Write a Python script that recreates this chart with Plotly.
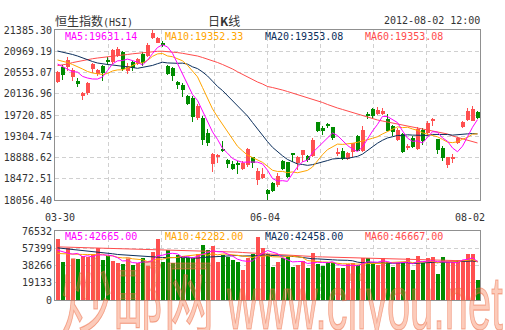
import pandas as pd
import plotly.graph_objects as go

# ---------------- data ----------------
dates = [
    "2012-03-30",
    "2012-04-02", "2012-04-03", "2012-04-05", "2012-04-10", "2012-04-11", "2012-04-12",
    "2012-04-13", "2012-04-16", "2012-04-17", "2012-04-18", "2012-04-19", "2012-04-20",
    "2012-04-23", "2012-04-24", "2012-04-25", "2012-04-26", "2012-04-27", "2012-04-30",
    "2012-05-02", "2012-05-03", "2012-05-04", "2012-05-07", "2012-05-08", "2012-05-09",
    "2012-05-10", "2012-05-11", "2012-05-14", "2012-05-15", "2012-05-16", "2012-05-17",
    "2012-05-18", "2012-05-21", "2012-05-22", "2012-05-23", "2012-05-24", "2012-05-25",
    "2012-05-28", "2012-05-29", "2012-05-30", "2012-05-31",
    "2012-06-01", "2012-06-04", "2012-06-05", "2012-06-06", "2012-06-07", "2012-06-08",
    "2012-06-11", "2012-06-12", "2012-06-13", "2012-06-14", "2012-06-15", "2012-06-18",
    "2012-06-19", "2012-06-20", "2012-06-21", "2012-06-22", "2012-06-25", "2012-06-26",
    "2012-06-27", "2012-06-28", "2012-06-29",
    "2012-07-03", "2012-07-04", "2012-07-05", "2012-07-06", "2012-07-09", "2012-07-10",
    "2012-07-11", "2012-07-12", "2012-07-13", "2012-07-16", "2012-07-17", "2012-07-18",
    "2012-07-19", "2012-07-20", "2012-07-23", "2012-07-24", "2012-07-25", "2012-07-26",
    "2012-07-27", "2012-07-30", "2012-07-31",
    "2012-08-01", "2012-08-02",
]

opens = [
    20367, 20661, 20655, 20459, 20387, 20093, 20142, 20622, 20524, 20680,
    20798, 20753, 20882, 20964, 20592, 20759, 20729, 20925, 20876, 21229,
    21140, 21131, 20674, 20641, 20367, 20302, 20087, 20054, 19662, 19662,
    19368, 18767, 18912, 19041, 18846, 18761, 18781, 18658, 18742, 18893,
    18448, 18481, 18252, 18383, 18350, 18826, 18801, 18971, 18787, 18928,
    18912, 18912, 19584, 19460, 19531, 19480, 18977, 19010, 18859, 18996,
    19304, 19016, 19731, 19838, 19750, 19750, 19643, 19506, 19231, 19349,
    19075, 19271, 19055, 19437, 19363, 19609, 19245, 19069, 18736, 18875,
    19178, 19480, 19623, 19613, 19786,
]
highs = [
    20588, 20700, 20851, 20641, 20445, 20181, 20367, 20739, 20628, 20700,
    20866, 21019, 21047, 20980, 20739, 20778, 20837, 20954, 21131, 21385.30,
    21258, 21170, 20694, 20655, 20381, 20347, 20118, 20087, 19936, 19695,
    19453, 18977, 18957, 19206, 18850, 18826, 18826, 18820, 19069, 18904,
    18677, 18677, 18272, 18415, 18591, 18846, 18806, 18977, 18918, 19036,
    18938, 19265, 19590, 19500, 19570, 19492, 19075, 19065, 18996, 19178,
    19335, 19506, 19770, 19852, 19872, 19852, 19741, 19525, 19460, 19363,
    19147, 19304, 19492, 19460, 19603, 19668, 19251, 19108, 18908, 18951,
    19296, 19609, 19852, 19897, 19799,
]
lows = [
    20347, 20406, 20588, 20381, 20263, 20015, 20112, 20553, 20485, 20377,
    20700, 20720, 20851, 20582, 20524, 20573, 20706, 20671, 20866, 21215,
    21131, 21047, 20510, 20392, 20236, 20073, 19911, 19584, 19629, 19139,
    19108, 18605, 18781, 18996, 18683, 18650, 18566, 18650, 18709, 18677,
    18350, 18468, 18056.40, 18219, 18317, 18644, 18481, 18806, 18644, 18806,
    18801, 18904, 19394, 19323, 19460, 19231, 18918, 18846, 18830, 18904,
    19010, 18996, 19643, 19656, 19721, 19721, 19408, 19304, 19218, 18983,
    19041, 19069, 19036, 19128, 19304, 19500, 18957, 18814, 18677, 18781,
    19147, 19460, 19609, 19603, 19643,
]
closes = [
    20563, 20504, 20804, 20608, 20328, 20142, 20342, 20710, 20602, 20534,
    20759, 20999, 21013, 20628, 20680, 20641, 20817, 20739, 21097, 21321,
    21238, 21086, 20524, 20479, 20314, 20205, 19936, 19676, 19903, 19237,
    19173, 18963, 18944, 19022, 18761, 18658, 18742, 18787, 19055, 18775,
    18630, 18566, 18174, 18239, 18526, 18670, 18501, 18928, 18893, 19030,
    18834, 19231, 19408, 19413, 19519, 19265, 18990, 18869, 18977, 19167,
    19022, 19437, 19715, 19692, 19819, 19809, 19413, 19392, 19427, 19006,
    19104, 19094, 19447, 19212, 19564, 19652, 19045, 18883, 18893, 18904,
    19280, 19590, 19799, 19831, 19656,
]
volumes = [
    67344, 42456, 57828, 45384, 45384, 49044, 47946, 50508, 57828, 44286,
    49044, 43188, 40626, 39528, 45384, 38796, 40626, 46848, 38064, 53436,
    67344, 42456, 55266, 40626, 49776, 49044, 46848, 46116, 50508, 60756,
    55266, 60024, 41724, 49776, 47946, 44286, 42456, 33306, 46116, 50508,
    69575, 57828, 50508, 36966, 42456, 46848, 47946, 36966, 38796, 43188,
    35868, 51606, 39528, 38064, 41724, 41358, 35868, 35136, 39528, 40626,
    38796, 46116, 46116, 39528, 38796, 46434, 42597, 36840, 41445, 42597,
    46434, 33770, 48353, 41445, 46434, 48168, 28290, 48168, 42434, 42434,
    44485, 44485, 51299, 51299, 21757,
]

# Moving averages. Each line starts before 03-30, so its first points
# (before a full window exists in this range) are given directly.
ma5_lead = [20719, 20667, 20628, 20569]
ma10_lead = [20798, 20778, 20749, 20710, 20671, 20622, 20573, 20543, 20530]
ma20_lead = [20974, 20954, 20935, 20906, 20876, 20837, 20798, 20768, 20739, 20719,
             20710, 20700, 20690, 20680, 20671, 20651, 20635, 20651, 20680]
ma60 = [
    20688, 20702, 20719, 20747, 20768, 20788, 20808, 20823, 20837, 20851,
    20862, 20872, 20882, 20892, 20906, 20919, 20931, 20941, 20951, 20958,
    20968, 20970, 20964, 20954, 20943, 20929, 20915, 20902, 20876, 20847,
    20817, 20786, 20749, 20710, 20671, 20622, 20567, 20514, 20465, 20416,
    20367, 20328, 20279, 20259, 20240, 20210, 20181, 20152, 20122, 20093,
    20064, 20034, 20005, 19966, 19927, 19887, 19858, 19829, 19799, 19770,
    19750, 19721, 19682, 19646, 19623, 19603, 19584, 19564, 19535, 19515,
    19496, 19476, 19466, 19447, 19427, 19408, 19392, 19374, 19349, 19310,
    19280, 19251, 19222, 19192, 19173,
]
vol_ma5_lead = [55266, 53436, 51972, 50874]
vol_ma10_lead = [51606, 51240, 51057, 50874, 50691, 50508, 50508, 50325, 50142]
vol_ma20_lead = [57828, 57300, 56800, 56300, 55800, 55266, 54650, 54050, 53450, 52800,
                 52000, 51300, 50500, 50100, 49700, 49300, 48900, 48500, 48000]
vol_ma60 = [
    58926, 58790, 58650, 58510, 58380, 58240, 58100, 57970, 57828, 57620,
    57410, 57200, 56990, 56780, 56570, 56364, 56210, 56050, 55900, 55740,
    55580, 55420, 55266, 55110, 54950, 54800, 54640, 54480, 54320, 54168,
    54050, 53930, 53800, 53680, 53560, 53436, 53070, 52700, 52340, 51970,
    51606, 51240, 50870, 50510, 50140, 49776, 49520, 49250, 48990, 48730,
    48470, 48210, 47946, 47790, 47630, 47480, 47320, 47160, 47000, 46848,
    46600, 46360, 46110, 45870, 45630, 45384, 45230, 45070, 44910, 44760,
    44600, 44440, 44286, 44200, 44100, 44000, 43900, 43800, 43700, 43600,
    43500, 43400, 43350, 43270, 43188,
]

price_ticks = [18056.40, 18472.51, 18888.62, 19304.74, 19720.85,
               20136.96, 20553.07, 20969.19, 21385.30]
volume_ticks = [0, 19133, 38266, 57399, 76532]
date_label_idx = [0, 42, 84]
price_legend = [("MA5", "19631.14"), ("MA10", "19352.33"),
                ("MA20", "19353.08"), ("MA60", "19353.08")]
volume_legend = [("MA5", "42665.00"), ("MA10", "42282.00"),
                 ("MA20", "42458.00"), ("MA60", "46667.00")]
index_name = "恒生指数"
index_code = "(HSI)"
period_name = "日<b>K</b>线"
stamp = "2012-08-02 12:00"
site_cn = "炒邮网"
site_url = "www.cjiyou.net"

# ---------------- style ----------------
RED = "#ff5050"
GREEN = "#008c00"
MA_COLORS = {"MA5": "#ff00ff", "MA10": "#ffa500", "MA20": "#0c2f5c", "MA60": "#ff4c4c"}
MONO = "DejaVu Sans Mono, Liberation Mono, monospace"
CJK = "Noto Sans CJK SC, sans-serif"
GRID = "#d0d0d0"
FRAME = "#909090"
TEXT = "#333333"
WM_FILL = "rgba(246,112,64,0.36)"
WM_EDGE = "rgba(236,100,60,0.5)"


def moving(values, n, lead):
    s = pd.Series(values, dtype=float).rolling(n).mean()
    s.iloc[: n - 1] = lead
    return s.tolist()


x = list(range(len(dates)))
n = len(x)
up = [c >= o for o, c in zip(opens, closes)]
colors = [RED if u else GREEN for u in up]

price_min, price_max = price_ticks[0], price_ticks[-1]
min_body = (price_max - price_min) / 170 * 0.9  # keep a doji visible as a 1px line
body_h = [max(abs(c - o), min_body) for o, c in zip(opens, closes)]
body_base = [(o + c) / 2 - h / 2 for o, c, h in zip(opens, closes, body_h)]

price_ma = {
    "MA5": moving(closes, 5, ma5_lead),
    "MA10": moving(closes, 10, ma10_lead),
    "MA20": moving(closes, 20, ma20_lead),
    "MA60": ma60,
}
vol_ma = {
    "MA5": moving(volumes, 5, vol_ma5_lead),
    "MA10": moving(volumes, 10, vol_ma10_lead),
    "MA20": moving(volumes, 20, vol_ma20_lead),
    "MA60": vol_ma60,
}

fig = go.Figure()

# wicks and bodies
fig.add_trace(go.Bar(x=x, y=[h - l for h, l in zip(highs, lows)], base=lows,
                     width=0.2, marker=dict(color=colors, line_width=0),
                     xaxis="x", yaxis="y", hoverinfo="skip"))
fig.add_trace(go.Bar(x=x, y=body_h, base=body_base, width=0.8,
                     marker=dict(color=colors, line_width=0),
                     customdata=list(zip(dates, opens, highs, lows, closes)),
                     hovertemplate="%{customdata[0]}<br>O %{customdata[1]}<br>H %{customdata[2]}"
                                   "<br>L %{customdata[3]}<br>C %{customdata[4]}<extra></extra>",
                     xaxis="x", yaxis="y"))
for name in ["MA60", "MA20", "MA10", "MA5"]:
    fig.add_trace(go.Scatter(x=x, y=price_ma[name], mode="lines",
                             line=dict(color=MA_COLORS[name], width=1),
                             xaxis="x", yaxis="y", hoverinfo="skip"))

# volume
fig.add_trace(go.Bar(x=x, y=volumes, width=0.8,
                     marker=dict(color=colors, line_width=0),
                     xaxis="x2", yaxis="y2", hoverinfo="skip"))
for name in ["MA60", "MA20", "MA10", "MA5"]:
    fig.add_trace(go.Scatter(x=x, y=vol_ma[name], mode="lines",
                             line=dict(color=MA_COLORS[name], width=1),
                             xaxis="x2", yaxis="y2", hoverinfo="skip"))

# vertical grid: eight equal divisions of the time axis
grid_x = [-0.5 + n * k / 8 for k in range(1, 8)]

axis_common = dict(showline=True, mirror=True, linecolor=FRAME, linewidth=1,
                   zeroline=False, showgrid=True, gridcolor=GRID, griddash="4px,3px",
                   gridwidth=1, ticks="", fixedrange=True, automargin=False)

W_TOTAL, H_TOTAL = 505, 330
LEFT, RIGHT, TOP, BOTTOM = 55, 25, 30, 30
plot_w = W_TOTAL - LEFT - RIGHT
plot_h = H_TOTAL - TOP - BOTTOM


def fy(py):
    """page pixel row -> paper fraction"""
    return (H_TOTAL - BOTTOM - py) / plot_h


def fx(px):
    """page pixel column -> paper fraction"""
    return (px - LEFT) / plot_w


fig.update_layout(
    width=W_TOTAL, height=H_TOTAL,
    margin=dict(l=LEFT, r=RIGHT, t=TOP, b=BOTTOM, autoexpand=False),
    paper_bgcolor="white", plot_bgcolor="white",
    showlegend=False, barmode="overlay", bargap=0,
    font=dict(family=MONO, size=10, color=TEXT),
    xaxis=dict(axis_common, domain=[0, 1], range=[-0.5, n - 0.5], anchor="y",
               tickvals=grid_x, showticklabels=False),
    xaxis2=dict(axis_common, domain=[0, 1], range=[-0.5, n - 0.5], anchor="y2",
                tickvals=grid_x, showticklabels=False, matches="x"),
    yaxis=dict(axis_common, domain=[fy(200), fy(30)], range=[price_min, price_max],
               tickvals=price_ticks, ticktext=[f"{v:.2f}" for v in price_ticks],
               tickfont=dict(family=MONO, size=10, color=TEXT)),
    yaxis2=dict(axis_common, domain=[fy(300), fy(231)], range=[0, volume_ticks[-1]],
                tickvals=volume_ticks, ticktext=[str(v) for v in volume_ticks],
                tickfont=dict(family=MONO, size=10, color=TEXT)),
)


def label(px, py, text, anchor="left", **font):
    f = dict(family=MONO, size=10, color=TEXT)
    f.update(font)
    return dict(x=fx(px), y=fy(py), xref="paper", yref="paper", xanchor=anchor,
                yanchor="middle", text=text, showarrow=False, font=f)


ann = []
# date labels under the price panel
for i, shift in zip(date_label_idx, [2, -3, -8]):
    ann.append(dict(x=i, y=fy(217), xref="x", yref="paper", xanchor="center",
                    yanchor="middle", text=dates[i][5:], showarrow=False, xshift=shift,
                    font=dict(family=MONO, size=10, color=TEXT)))
# header
ann.append(label(53, 21, f"<span style='font-family:Noto Sans CJK SC;font-size:12px'>"
                         f"{index_name}</span>{index_code}"))
ann.append(label(206, 21, period_name, family=CJK, size=12))
ann.append(label(482, 21, stamp, anchor="right"))
# moving-average readouts
for k, (name, val) in enumerate(price_legend):
    ann.append(label(63 + 100 * k, 37, f"{name}:{val}", color=MA_COLORS[name]))
for k, (name, val) in enumerate(volume_legend):
    ann.append(label(63 + 100 * k, 237, f"{name}:{val}", color=MA_COLORS[name]))

# site watermark (narrowed in the page script below)
ann.append(label(138, 291, site_cn, anchor="center", family="Noto Sans CJK SC",
                 size=82, color=WM_FILL))
ann.append(label(365, 302, site_url, anchor="center", family="Liberation Sans, Arimo, sans-serif",
                 size=76, color=WM_FILL))

fig.update_layout(annotations=ann)

# The watermark lettering is tall and narrow: squeeze it horizontally to its
# box width and give it a thin outline.
squeeze_js = """
var gd = document.getElementById('{plot_id}');
var widths = {"%s": 153, "%s": 276};
function squeeze() {
  gd.querySelectorAll('text.annotation-text').forEach(function (t) {
    var key = t.textContent;
    if (!(key in widths)) return;
    t.style.transform = '';
    var s = widths[key] / t.getBBox().width;
    t.style.transformBox = 'fill-box';
    t.style.transformOrigin = 'center';
    t.style.transform = 'scaleX(' + s + ')';
    t.style.stroke = '%s';
    t.style.strokeWidth = '1.2px';
  });
}
squeeze();
gd.on('plotly_afterplot', squeeze);
""" % (site_cn, site_url, WM_EDGE)

fig.write_html("out.html", post_script=squeeze_js)
